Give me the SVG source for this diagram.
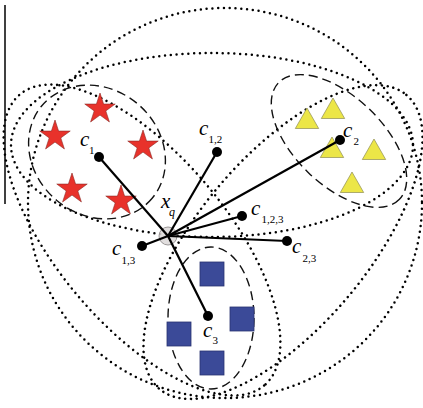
<svg xmlns="http://www.w3.org/2000/svg" xmlns:xlink="http://www.w3.org/1999/xlink" width="423" height="408" viewBox="0 0 423 408">
<style>
.dot{fill:none;stroke:#000;stroke-width:2.5;stroke-dasharray:0 5.8;stroke-linecap:round}
.dash{fill:none;stroke:#111;stroke-width:1.4;stroke-dasharray:9 5}
.star{fill:#e8322b;stroke:#8a2a25;stroke-width:0.6}
.tri{fill:#ece647;stroke:#8e8c55;stroke-width:0.7}
.sq{fill:#3b4a98;stroke:#283270;stroke-width:0.8}
.ln{stroke:#000;stroke-width:2.2;fill:none}
.ctr{fill:#000}
.c{font-family:"Liberation Serif",serif;font-style:italic;font-size:21px;fill:#000}
.s{font-family:"Liberation Serif",serif;font-size:11px;fill:#000}
.q{font-family:"Liberation Serif",serif;font-style:italic;font-size:12px;fill:#000}
</style>
<defs>
<path id="star" d="M0,-16 L3.59,-4.94 L15.22,-4.94 L5.8,1.89 L9.4,12.94 L0,6.1 L-9.4,12.94 L-5.8,1.89 L-15.22,-4.94 L-3.59,-4.94 Z"/>
<path id="tri" d="M0,0 L11.7,20.5 L-11.7,20.5 Z"/>
</defs>
<rect width="423" height="408" fill="#fff"/>
<line x1="5" y1="5" x2="5" y2="204" stroke="#000" stroke-width="1.5"/>
<g id="loops">
<ellipse class="dot" cx="225" cy="203" rx="197" ry="195"/>
<ellipse class="dot" cx="212" cy="145" rx="201" ry="92"/>
<ellipse class="dot" cx="142" cy="240" rx="190" ry="85" transform="rotate(50 142 240)"/>
<ellipse class="dot" cx="283" cy="242" rx="192" ry="85" transform="rotate(-50 283 242)"/>
</g>
<g id="cluster1">
<ellipse class="dash" cx="97" cy="152" rx="72" ry="63" transform="rotate(40 97 152)"/>
<use href="#star" class="star" x="100" y="109"/>
<use href="#star" class="star" x="55" y="136"/>
<use href="#star" class="star" x="143" y="146"/>
<use href="#star" class="star" x="72" y="189"/>
<use href="#star" class="star" x="121" y="201"/>
</g>
<g id="cluster2">
<ellipse class="dash" cx="339" cy="141" rx="84" ry="44" transform="rotate(44 339 141)"/>
<use href="#tri" class="tri" x="307" y="108"/>
<use href="#tri" class="tri" x="333" y="98"/>
<use href="#tri" class="tri" x="332" y="137"/>
<use href="#tri" class="tri" x="374" y="139"/>
<use href="#tri" class="tri" x="352" y="172"/>
</g>
<g id="cluster3">
<ellipse class="dash" cx="211" cy="318" rx="43" ry="71"/>
<rect class="sq" x="200" y="262" width="24" height="24"/>
<rect class="sq" x="230" y="307" width="24" height="24"/>
<rect class="sq" x="167" y="322" width="24" height="24"/>
<rect class="sq" x="200" y="351" width="24" height="24"/>
</g>
<g id="xq">
<circle cx="168" cy="236" r="9" fill="#dcd8d8" fill-opacity="0.85" stroke="#9a9696" stroke-width="1"/>
<text class="c" x="161" y="208">x</text><text class="q" x="169" y="216">q</text>
</g>
<g id="connectors">
<line class="ln" x1="99" y1="157" x2="168" y2="236"/>
<line class="ln" x1="168" y1="236" x2="208" y2="316"/>
<line class="ln" x1="168" y1="236" x2="217" y2="152"/>
<line class="ln" x1="168" y1="236" x2="340" y2="140"/>
<line class="ln" x1="168" y1="236" x2="242" y2="216"/>
<line class="ln" x1="168" y1="236" x2="287" y2="241"/>
<line class="ln" x1="168" y1="236" x2="142" y2="246"/>
</g>
<g id="c1"><circle class="ctr" cx="99" cy="157" r="5"/><text class="c" x="80" y="146">c</text><text class="s" x="89" y="154">1</text></g>
<g id="c12"><circle class="ctr" cx="217" cy="152" r="5"/><text class="c" x="199" y="135">c</text><text class="s" x="208.5" y="143">1,2</text></g>
<g id="c2"><circle class="ctr" cx="340" cy="140" r="5"/><text class="c" x="343" y="137">c</text><text class="s" x="353.5" y="145">2</text></g>
<g id="c123"><circle class="ctr" cx="242" cy="216" r="5"/><text class="c" x="251" y="215">c</text><text class="s" x="261.5" y="223">1,2,3</text></g>
<g id="c23"><circle class="ctr" cx="287" cy="241" r="5"/><text class="c" x="292" y="253">c</text><text class="s" x="302.5" y="262">2,3</text></g>
<g id="c13"><circle class="ctr" cx="142" cy="246" r="5"/><text class="c" x="112" y="255">c</text><text class="s" x="121.5" y="264">1,3</text></g>
<g id="c3"><circle class="ctr" cx="208" cy="316" r="5"/><text class="c" x="203" y="337">c</text><text class="s" x="212.5" y="344">3</text></g>
</svg>
